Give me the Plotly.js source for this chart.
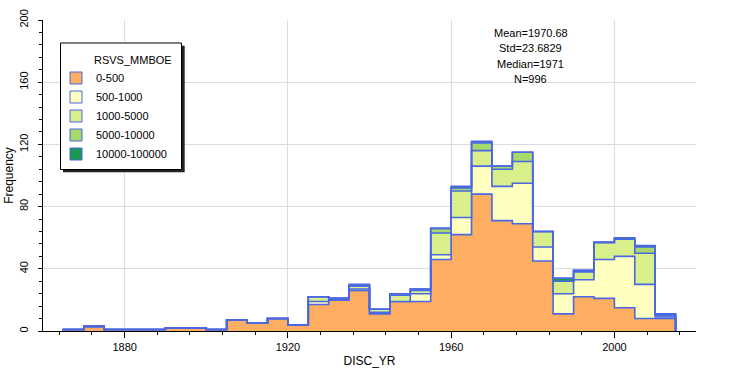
<!DOCTYPE html>
<html><head><meta charset="utf-8">
<script src="https://cdn.plot.ly/plotly-3.0.1.min.js"></script>
<style>html,body{margin:0;padding:0;background:#fff}</style>
</head><body><div id="chart" style="width:734px;height:372px"></div>
<script>
// 5-year bins (left edges) of DISC_YR
const binStart = [1865,1870,1875,1880,1885,1890,1895,1900,1905,1910,1915,1920,1925,1930,1935,
                  1940,1945,1950,1955,1960,1965,1970,1975,1980,1985,1990,1995,2000,2005,2010];
const binWidth = 5;
const categories = ['0-500','500-1000','1000-5000','5000-10000','10000-100000'];
const colors = ['#fdae61','#ffffbf','#d9ef8b','#a6d96a','#1a9850'];
const cnt_0_500      = [1,3,1,1,1,2,2,1,7,5,8,4,17,20,26,11,19,19,46,62,88,71,69,45,11,22,21,15,8,8];
const cnt_500_1000   = [0,0,0,0,0,0,0,0,0,0,0,0, 2, 0, 1, 1, 0, 5, 3,11,18,22,26, 9,13,11,25,33,22,1];
const cnt_1000_5000  = [0,0,0,0,0,0,0,0,0,0,0,0, 3, 1, 2, 2, 4, 2,14,17,10,11,14,10, 8, 5,11,11,20,1];
const cnt_5000_10000 = [0,0,0,0,0,0,0,0,0,0,0,0, 0, 0, 0, 0, 1, 1, 3, 2, 5, 2, 6, 0, 0, 1, 0, 0, 4,1];
const cnt_10000_100000=[0,0,0,0,0,0,0,0,0,0,0,0, 0, 0, 1, 0, 0, 0, 0, 1, 1, 0, 0, 0, 2, 0, 0, 1, 1,0];
const legendTitle = 'RSVS_MMBOE';
const statsLines = ['Mean=1970.68','Std=23.6829','Median=1971','N=996'];
const xTickVals = [1880,1920,1960,2000];
const yTickVals = [0,40,80,120,160,200];

const series = [cnt_0_500,cnt_500_1000,cnt_1000_5000,cnt_5000_10000,cnt_10000_100000];
const outline = '#4a67e4';
const lastEdge = binStart[binStart.length-1] + binWidth;
const xs = [binStart[0]].concat(binStart, [lastEdge, lastEdge]);

const traces = [];
let cum = binStart.map(() => 0);
series.forEach((s, i) => {
  cum = cum.map((v, k) => v + s[k]);
  traces.push({
    type: 'scatter', mode: 'lines', x: xs,
    y: [0].concat(cum, [cum[cum.length-1], 0]),
    line: {shape: 'hv', color: outline, width: 1.6},
    fill: i === 0 ? 'tozeroy' : 'tonexty', fillcolor: colors[i],
    showlegend: false, hoverinfo: 'skip'
  });
});
categories.forEach((c, i) => {
  traces.push({
    type: 'scatter', mode: 'markers', x: [null], y: [null], name: c,
    marker: {symbol: 'square', size: 12, color: colors[i], line: {color: outline, width: 1}},
    showlegend: true, hoverinfo: 'skip'
  });
});

// pixel helpers for the plot area (margin l=43, t=20, w=653, h=311)
const PX = px => (px - 43) / 653;
const PY = py => (331 - py) / 311;

const annY = [32.5, 48, 63.5, 79];
const annotations = statsLines.map((t, i) => ({
  text: t, xref: 'paper', yref: 'paper', x: PX(530.5), y: PY(annY[i]),
  xanchor: 'center', yanchor: 'middle', showarrow: false,
  font: {size: 11, color: '#000'}
}));
annotations.push({
  text: legendTitle, xref: 'paper', yref: 'paper', x: PX(92), y: PY(60),
  xanchor: 'left', yanchor: 'middle', showarrow: false, font: {size: 11, color: '#000'}
});

const shapes = [
  {type: 'rect', xref: 'paper', yref: 'paper', layer: 'above',
   x0: PX(63), x1: PX(184.7), y0: PY(172.3), y1: PY(45.7),
   fillcolor: '#222', line: {width: 0}},
  {type: 'rect', xref: 'paper', yref: 'paper', layer: 'above',
   x0: PX(60.5), x1: PX(181.5), y0: PY(169.5), y1: PY(43),
   fillcolor: '#fff', line: {color: '#000', width: 1}}
];

const layout = {
  width: 734, height: 372,
  margin: {l: 43, r: 38, t: 20, b: 41},
  paper_bgcolor: '#fff', plot_bgcolor: '#fff',
  font: {family: 'Liberation Sans, Arial, sans-serif', size: 11, color: '#000'},
  showlegend: true,
  xaxis: {
    range: [1860, 2020], tickvals: xTickVals, ticks: 'outside', ticklen: 6, tickcolor: '#000',
    minor: {dtick: 8, tick0: 1880, ticks: 'outside', ticklen: 3, tickcolor: '#000', showgrid: false},
    showgrid: true, gridcolor: '#dcdcdc', gridwidth: 1,
    showline: true, linecolor: '#000', linewidth: 1, zeroline: false,
    title: {text: 'DISC_YR', font: {size: 12}, standoff: 4}
  },
  yaxis: {
    range: [0, 200], tickvals: yTickVals, ticks: 'outside', ticklen: 4, tickcolor: '#000',
    tickangle: -90, ticklabelstandoff: 6,
    minor: {dtick: 8, tick0: 0, ticks: 'outside', ticklen: 3, tickcolor: '#000', showgrid: false},
    showgrid: true, gridcolor: '#dcdcdc', gridwidth: 1,
    showline: true, linecolor: '#000', linewidth: 1, zeroline: false,
    title: {text: 'Frequency', font: {size: 12}, standoff: 1}
  },
  legend: {
    x: PX(56), y: PY(63.5), xanchor: 'left', yanchor: 'top',
    bgcolor: 'rgba(0,0,0,0)', borderwidth: 0,
    traceorder: 'normal', font: {size: 11}
  },
  shapes: shapes,
  annotations: annotations
};

Plotly.newPlot('chart', traces, layout, {displayModeBar: false, staticPlot: true});
</script>
</body></html>
